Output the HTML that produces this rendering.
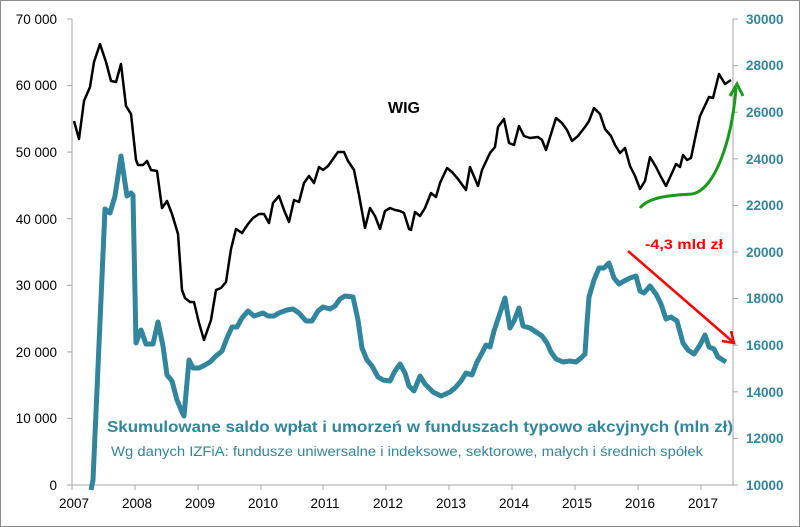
<!DOCTYPE html>
<html><head><meta charset="utf-8"><style>
html,body{margin:0;padding:0;background:#fff}
svg{display:block;font-family:"Liberation Sans",sans-serif}
</style></head><body>
<svg width="800" height="527" viewBox="0 0 800 527" xmlns="http://www.w3.org/2000/svg">
<rect x="0.5" y="0.5" width="799" height="526" fill="#fff" stroke="#8c8c8c"/>
<g stroke="#a6a6a6" stroke-width="1" fill="none">
<line x1="72" y1="19" x2="72" y2="485"/>
<line x1="72" y1="485" x2="733" y2="485"/>
<line x1="733" y1="19" x2="733" y2="485"/>
<g>
<line x1="67" y1="19" x2="72" y2="19"/><line x1="67" y1="85.6" x2="72" y2="85.6"/><line x1="67" y1="152.1" x2="72" y2="152.1"/><line x1="67" y1="218.7" x2="72" y2="218.7"/><line x1="67" y1="285.3" x2="72" y2="285.3"/><line x1="67" y1="351.9" x2="72" y2="351.9"/><line x1="67" y1="418.4" x2="72" y2="418.4"/><line x1="67" y1="485" x2="72" y2="485"/>
<line x1="733" y1="19" x2="738" y2="19"/><line x1="733" y1="65.6" x2="738" y2="65.6"/><line x1="733" y1="112.2" x2="738" y2="112.2"/><line x1="733" y1="158.8" x2="738" y2="158.8"/><line x1="733" y1="205.4" x2="738" y2="205.4"/><line x1="733" y1="252" x2="738" y2="252"/><line x1="733" y1="298.6" x2="738" y2="298.6"/><line x1="733" y1="345.2" x2="738" y2="345.2"/><line x1="733" y1="391.8" x2="738" y2="391.8"/><line x1="733" y1="438.4" x2="738" y2="438.4"/><line x1="733" y1="485" x2="738" y2="485"/>
<line x1="72" y1="485" x2="72" y2="490"/><line x1="135" y1="485" x2="135" y2="490"/><line x1="198" y1="485" x2="198" y2="490"/><line x1="261" y1="485" x2="261" y2="490"/><line x1="323" y1="485" x2="323" y2="490"/><line x1="386" y1="485" x2="386" y2="490"/><line x1="449" y1="485" x2="449" y2="490"/><line x1="512" y1="485" x2="512" y2="490"/><line x1="575" y1="485" x2="575" y2="490"/><line x1="638" y1="485" x2="638" y2="490"/><line x1="701" y1="485" x2="701" y2="490"/>
</g></g>
<g font-size="13.5" fill="#000" text-anchor="end">
<text x="57" y="24">70 000</text><text x="57" y="90">60 000</text><text x="57" y="157">50 000</text><text x="57" y="224">40 000</text><text x="57" y="290">30 000</text><text x="57" y="357">20 000</text><text x="57" y="423">10 000</text><text x="57" y="490">0</text>
</g>
<g font-size="13.5" fill="#31859c" font-weight="bold">
<text x="746" y="24">30000</text><text x="746" y="70">28000</text><text x="746" y="117">26000</text><text x="746" y="164">24000</text><text x="746" y="210">22000</text><text x="746" y="257">20000</text><text x="746" y="303">18000</text><text x="746" y="350">16000</text><text x="746" y="397">14000</text><text x="746" y="443">12000</text><text x="746" y="490">10000</text>
</g>
<g font-size="13.5" fill="#000" text-anchor="middle">
<text x="74" y="508">2007</text><text x="137" y="508">2008</text><text x="200" y="508">2009</text><text x="263" y="508">2010</text><text x="325" y="508">2011</text><text x="388" y="508">2012</text><text x="451" y="508">2013</text><text x="514" y="508">2014</text><text x="577" y="508">2015</text><text x="640" y="508">2016</text><text x="703" y="508">2017</text>
</g>
<polyline fill="none" stroke="#31859c" stroke-width="5" stroke-linejoin="round" points="91,490 93,480 105,209 110,213 115,196 121,156 127,196 131,193 133,195 136,343 141,330 146,344 153,344 158,322 163,346 167,375 172,381 177,400 182,412 184,416 189,360 193,368 199,368 205,365 210,362 216,356 222,351 227,338 232,327 237,327 242,318 248,311 254,316 263,313 268,316 274,316 279,313 287,310 293,309 299,313 306,321 312,321 318,311 323,307 330,309 335,306 340,299 345,296 353,297 358,320 362,348 367,360 372,366 378,377 383,380 390,381 395,371 400,364 405,373 409,386 414,391 420,376 425,384 433,392 441,396 450,392 455,388 461,381 466,373 472,375 477,362 482,353 486,345 490,347 494,331 500,313 505,298 510,328 514,321 519,308 523,326 530,328 536,332 542,336 547,343 551,352 556,359 563,362 570,361 576,362 581,358 585,354 587,323 589,297 594,280 599,268 604,268 609,263 614,278 619,284 624,281 630,278 636,276 640,291 644,293 650,286 656,294 661,304 666,319 671,317 677,321 683,343 688,350 694,354 700,345 705,335 709,347 714,349 718,357 726,362"/>
<polyline fill="none" stroke="#000" stroke-width="2.5" stroke-linejoin="round" points="74,121 79,139 84,101 90,87 94,62 100,44 106,62 111,81 116,82 121,64 126,106 131,114 136,160 138,165 143,165 147,161 151,170 157,171 162,208 167,201 172,214 178,234 182,290 185,298 190,302 194,302 199,323 204,340 211,320 216,290 221,288 226,282 231,249 236,229 242,233 248,224 253,218 259,214 264,214 269,223 273,203 279,196 284,210 289,222 294,200 299,202 304,183 309,176 314,183 319,167 323,170 328,166 333,159 338,152 344,152 348,161 354,170 359,195 365,228 370,208 375,216 380,229 385,211 390,208 395,210 400,211 404,213 409,229 411,230 415,212 420,216 425,208 431,193 436,197 440,183 447,168 452,172 458,179 466,190 470,167 478,186 482,170 490,153 495,147 498,127 504,119 509,143 514,145 519,126 524,136 530,138 538,137 542,140 546,150 556,118 562,123 567,130 572,141 578,136 585,127 589,121 594,108 600,114 605,129 611,136 615,145 620,153 625,148 630,166 635,176 640,189 645,181 650,157 656,167 661,177 666,186 672,173 676,164 680,167 683,155 687,160 691,158 696,134 700,116 709,97 713,98 719,74 725,84 731,80"/>
<path d="M640,208 C650,195 680,195 692,194 C715,190 732,140 736,88" fill="none" stroke="#1a9a1a" stroke-width="3"/>
<polyline points="730,96 737,84 743,96" fill="none" stroke="#1a9a1a" stroke-width="3"/>
<line x1="628" y1="251" x2="733" y2="342" stroke="#ff0000" stroke-width="2.5"/>
<polyline points="722,341 734,343 731,331" fill="none" stroke="#ff0000" stroke-width="2.5"/>
<text x="645" y="249" font-size="14" font-weight="bold" fill="#ff0000" textLength="78" lengthAdjust="spacingAndGlyphs">-4,3 mld zł</text>
<text x="388" y="113" font-size="16" font-weight="bold" fill="#000">WIG</text>
<text x="107" y="432" font-size="16" font-weight="bold" fill="#31859c" textLength="626" lengthAdjust="spacingAndGlyphs">Skumulowane saldo wpłat i umorzeń w funduszach  typowo akcyjnych (mln zł)</text>
<text x="111" y="456" font-size="13.5" fill="#31859c" textLength="592" lengthAdjust="spacingAndGlyphs">Wg danych IZFiA: fundusze uniwersalne i indeksowe, sektorowe, małych i średnich spółek</text>
</svg>
</body></html>
